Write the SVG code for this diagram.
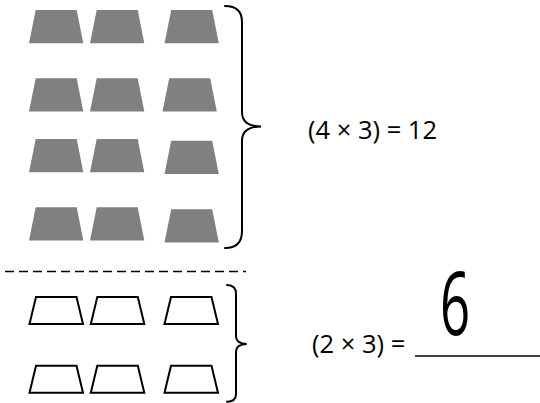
<svg xmlns="http://www.w3.org/2000/svg" xmlns:xlink="http://www.w3.org/1999/xlink" width="540" height="403" viewBox="0 0 540 403">
  <style>
    .solid { fill: #808080; }
    .outline { fill: #ffffff; stroke: #000000; stroke-width: 2; stroke-linejoin: miter; }
    .brace { fill: none; stroke: #000000; stroke-width: 2; stroke-linecap: round; }
    .dash { stroke: #000000; stroke-width: 1.6; stroke-dasharray: 9 5; }
    .blank { stroke: #000000; stroke-width: 1.4; }
    .lbl { font-family: "Open Sans", "Liberation Sans", sans-serif; font-size: 25.5px; fill: #000000; }
    .hand { font-family: "Open Sans", "DejaVu Sans", sans-serif; font-weight: 400; font-size: 88px; fill: #000000; }
  </style>
  <defs>
    <path id="trapFill" d="M6.7,0 H47.7 L54.3,33.3 H0 Z"/>
    <path id="trapLine" d="M6.5,0 H47 L53.5,27 H0 Z"/>
  </defs>
  <rect width="540" height="403" fill="#ffffff"/>

  <g id="group-top">
    <g id="row1">
      <use xlink:href="#trapFill" href="#trapFill" class="solid" x="29" y="10"/>
      <use xlink:href="#trapFill" href="#trapFill" class="solid" x="90" y="10"/>
      <use xlink:href="#trapFill" href="#trapFill" class="solid" x="164.5" y="10"/>
    </g>
    <g id="row2">
      <use xlink:href="#trapFill" href="#trapFill" class="solid" x="29" y="78.3"/>
      <use xlink:href="#trapFill" href="#trapFill" class="solid" x="90" y="78.3"/>
      <use xlink:href="#trapFill" href="#trapFill" class="solid" x="162.5" y="78.3"/>
    </g>
    <g id="row3">
      <use xlink:href="#trapFill" href="#trapFill" class="solid" x="29" y="139"/>
      <use xlink:href="#trapFill" href="#trapFill" class="solid" x="90" y="139"/>
      <use xlink:href="#trapFill" href="#trapFill" class="solid" x="164.5" y="140.7"/>
    </g>
    <g id="row4">
      <use xlink:href="#trapFill" href="#trapFill" class="solid" x="29" y="207.3"/>
      <use xlink:href="#trapFill" href="#trapFill" class="solid" x="90" y="207.3"/>
      <use xlink:href="#trapFill" href="#trapFill" class="solid" x="164.5" y="209.3"/>
    </g>
    <path id="brace-top" class="brace" d="M225,6 C237,6 242,12 242,22 V112 C242,121 248,126.5 261,126.5 C248,126.5 242,132 242,141 V231 C242,241 237,248 225,248"/>
    <text id="label-top" class="lbl" x="308" y="138.5">(4 × 3) = 12</text>
  </g>

  <line id="divider" class="dash" x1="5" y1="271.5" x2="246" y2="271.5"/>

  <g id="group-bottom">
    <g id="row5">
      <use xlink:href="#trapLine" href="#trapLine" class="outline" x="29.5" y="297"/>
      <use xlink:href="#trapLine" href="#trapLine" class="outline" x="90.8" y="297"/>
      <use xlink:href="#trapLine" href="#trapLine" class="outline" x="164.5" y="297"/>
    </g>
    <g id="row6">
      <use xlink:href="#trapLine" href="#trapLine" class="outline" x="29.5" y="365.7"/>
      <use xlink:href="#trapLine" href="#trapLine" class="outline" x="90.8" y="365.7"/>
      <use xlink:href="#trapLine" href="#trapLine" class="outline" x="164.5" y="365.7"/>
    </g>
    <path id="brace-bottom" class="brace" d="M227,285 C233,285 236,288 236,294 V336 C236,341 240,344 246.7,344 C240,344 236,347 236,352 V394 C236,399 233,401.7 227,401.7"/>
    <text id="label-bottom" class="lbl" x="312" y="352.5">(2 × 3) = </text>
    <line id="blank" class="blank" x1="415" y1="356" x2="540" y2="356"/>
    <text id="answer" class="hand" transform="translate(440,335) scale(0.6,1)" x="0" y="0">6</text>
  </g>
</svg>
